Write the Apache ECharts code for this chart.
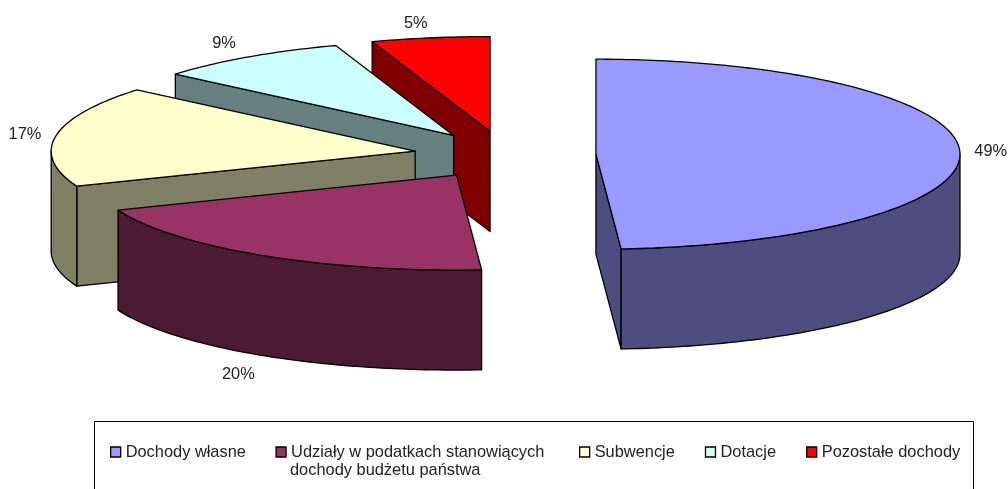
<!DOCTYPE html>
<html>
<head>
<meta charset="utf-8">
<style>html,body{margin:0;padding:0;background:#fff}#main{width:1008px;height:489px}</style>
<script src="https://cdn.jsdelivr.net/npm/echarts@6/dist/echarts.min.js"></script>
</head>
<body>
<div id="main"></div>
<script>
var categories = ['Dochody własne', 'Udziały w podatkach stanowiących\ndochody budżetu państwa', 'Subwencje', 'Dotacje', 'Pozostałe dochody'];
var values = [48.9, 20.1, 17.15, 8.6, 5.25];
var topColors = ['#9999FF', '#993366', '#FFFFCC', '#CCFFFF', '#FF0000'];
var wallColors = ['#4D4D80', '#4D1A33', '#808066', '#668080', '#800000'];
var labelOffsets = [[31, 1], [-24, 19], [-31, -1], [-24, -14], [-14.5, -14]];

var myChart = echarts.init(document.getElementById('main'));

var fontName = '"Liberation Sans", Arial, sans-serif';
// 3d pie geometry, Excel style: ellipse + extruded depth + explosion
var cx = 505, cy = 155, rx = 364, ry = 95, depth = 100, explode = 0.25;
var total = values.reduce(function (a, b) { return a + b; }, 0);
var starts = [], acc = 0;
values.forEach(function (v) { starts.push(acc / total * 360); acc += v; });

function rad(d) { return d * Math.PI / 180; }

function pt(c, deg, dy) {
  return [c[0] + rx * Math.sin(rad(deg)), c[1] - ry * Math.cos(rad(deg)) + (dy || 0)];
}

function arcPoints(c, from, to, dy) {
  var pts = [], n = Math.max(2, Math.ceil(Math.abs(to - from)));
  for (var i = 0; i <= n; i++) pts.push(pt(c, from + (to - from) * i / n, dy));
  return pts;
}

function poly(points, fill) {
  return {
    type: 'polygon',
    shape: { points: points },
    style: { fill: fill, stroke: '#000', lineWidth: 1.3, lineJoin: 'round' }
  };
}

function sideWall(c, deg, fill) {
  var e = pt(c, deg);
  return poly([c, e, [e[0], e[1] + depth], [c[0], c[1] + depth]], fill);
}

function renderSlice(i) {
  var a0 = starts[i], a1 = a0 + values[i] / total * 360, mid = (a0 + a1) / 2;
  var c = [cx + rx * explode * Math.sin(rad(mid)), cy - ry * explode * Math.cos(rad(mid))];
  var children = [];
  // only walls facing the viewer
  if (Math.cos(rad(a0 - 90)) < -1e-6) children.push(sideWall(c, a0, wallColors[i]));
  if (Math.cos(rad(a1 + 90)) < -1e-6) children.push(sideWall(c, a1, wallColors[i]));
  var w0 = Math.max(a0, 90), w1 = Math.min(a1, 270);
  if (w1 > w0) {
    children.push(poly(arcPoints(c, w0, w1, 0).concat(arcPoints(c, w1, w0, depth)), wallColors[i]));
  }
  children.push(poly([c].concat(arcPoints(c, a0, a1, 0)), topColors[i]));
  // label sits outside the rim, below the wall on the front half
  var rim = pt(c, mid, Math.cos(rad(mid)) < 0 ? depth : 0);
  children.push({
    type: 'text',
    style: {
      text: Math.round(values[i]) + '%',
      x: rim[0] + labelOffsets[i][0],
      y: rim[1] + labelOffsets[i][1],
      fill: '#222',
      font: '16.4px ' + fontName,
      align: 'center',
      verticalAlign: 'middle'
    }
  });
  return { type: 'group', children: children };
}

var series = categories.map(function (name, i) {
  return {
    type: 'custom',
    name: name,
    coordinateSystem: 'none',
    silent: true,
    z: i === 0 ? 10 : categories.length - i,
    itemStyle: { color: topColors[i] },
    data: [[values[i]]],
    renderItem: function () { return renderSlice(i); }
  };
});

// two legend blocks, the wrapped entry leaves a wider gap after it
function legendBlock(left, gap, names) {
  return {
    left: left,
    top: 444,
    padding: 0,
    itemWidth: 10,
    itemHeight: 10,
    itemGap: gap,
    selectedMode: false,
    icon: 'rect',
    itemStyle: { borderColor: '#000', borderWidth: 1.3 },
    textStyle: { fontSize: 16.4, color: '#222' },
    formatter: function (name) { return name.split('\n')[0]; },
    data: names
  };
}

var option = {
  animation: false,
  backgroundColor: '#fff',
  textStyle: { fontFamily: fontName },
  legend: [
    legendBlock(110, 29.5, categories.slice(0, 2)),
    legendBlock(579, 30, categories.slice(2))
  ],
  graphic: [
    {
      type: 'rect',
      silent: true,
      z: -1,
      shape: { x: 94.5, y: 421.5, width: 879, height: 90 },
      style: { fill: '#fff', stroke: '#000', lineWidth: 1 }
    },
    {
      type: 'text',
      silent: true,
      style: {
        text: categories[1].split('\n')[1],
        x: 290,
        y: 470,
        fill: '#222',
        font: '16.4px ' + fontName,
        verticalAlign: 'middle'
      }
    }
  ],
  series: series
};

myChart.setOption(option);
</script>
</body>
</html>
